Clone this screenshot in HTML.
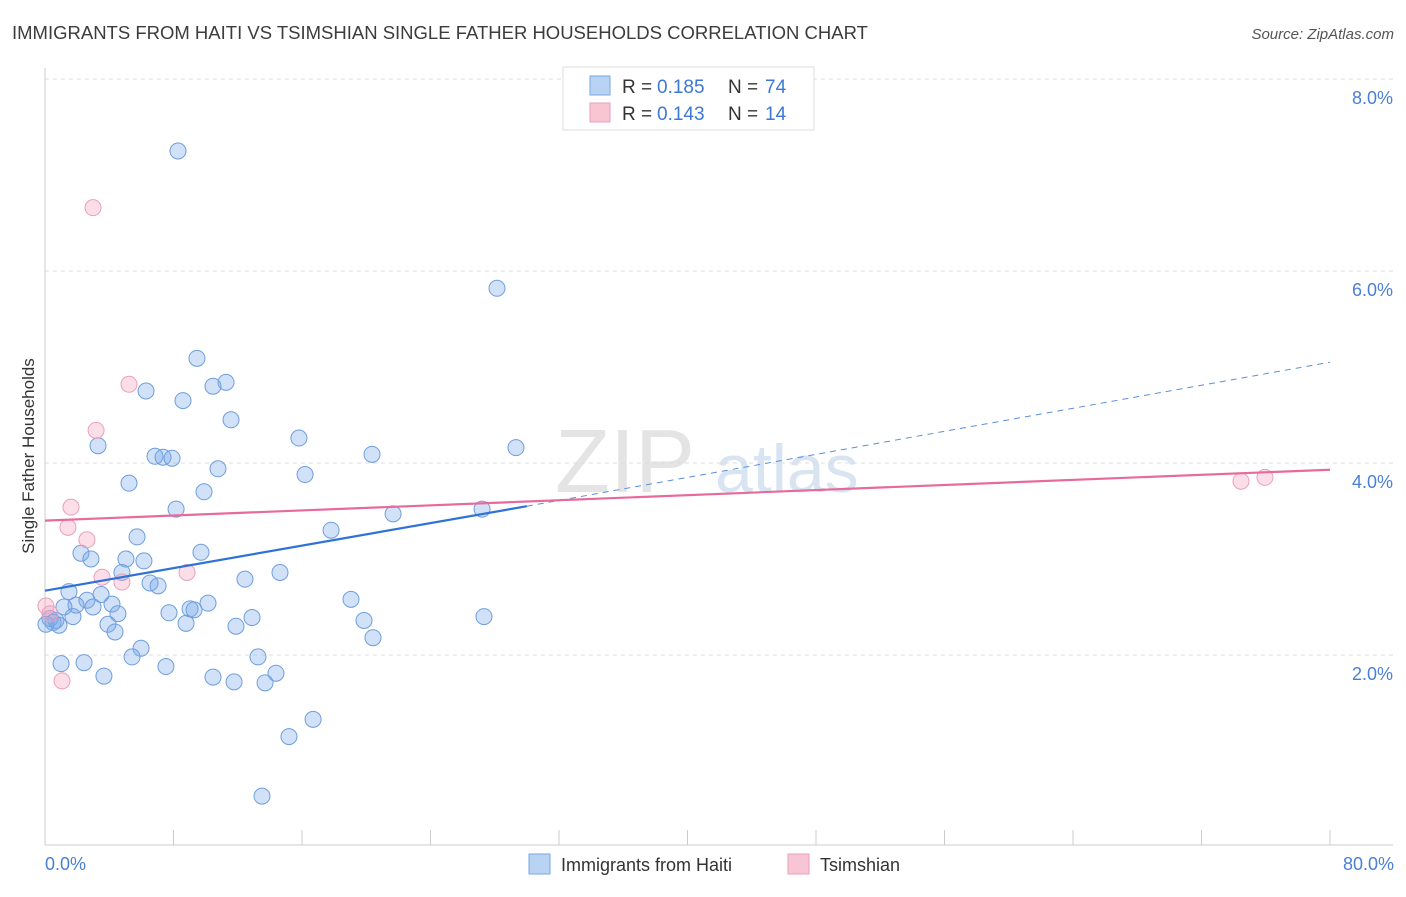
<!DOCTYPE html>
<html><head><meta charset="utf-8"><style>
body{margin:0;background:#fff;font-family:"Liberation Sans",sans-serif;}
svg text{font-family:"Liberation Sans",sans-serif;}
</style></head><body>
<svg id="chart" width="1406" height="892" xmlns="http://www.w3.org/2000/svg">
<text x="12" y="39" font-size="18.5" fill="#3c3c3c">IMMIGRANTS FROM HAITI VS TSIMSHIAN SINGLE FATHER HOUSEHOLDS CORRELATION CHART</text>
<text x="1394" y="39" font-size="15" fill="#555" text-anchor="end" font-style="italic">Source: ZipAtlas.com</text>
<text x="555" y="492" font-size="90" fill="#e4e4e4" font-family="Liberation Serif">ZIP</text>
<text x="715" y="492" font-size="68" fill="#d8e4f2">atlas</text>
<g id="grid"></g>
<g id="marks"></g>
<text transform="translate(34,456) rotate(-90)" font-size="17" fill="#333" text-anchor="middle">Single Father Households</text>
<text x="45" y="870" font-size="18" fill="#4a7fd4">0.0%</text>
<text x="1394" y="870" font-size="18" fill="#4a7fd4" text-anchor="end">80.0%</text>
<g>
<rect x="563" y="67" width="251" height="63" fill="#fff" stroke="#ddd"/>
<rect x="590" y="76" width="20" height="19" fill="#b8d3f3" stroke="#7aa7e0"/>
<rect x="590" y="103" width="20" height="19" fill="#f8c5d5" stroke="#e8a0b8"/>
<text x="622" y="93" font-size="19" fill="#333">R =</text>
<text x="657" y="93" font-size="19" fill="#3d78d6">0.185</text>
<text x="728" y="93" font-size="19" fill="#333">N =</text>
<text x="765" y="93" font-size="19" fill="#3d78d6">74</text>
<text x="622" y="120" font-size="19" fill="#333">R =</text>
<text x="657" y="120" font-size="19" fill="#3d78d6">0.143</text>
<text x="728" y="120" font-size="19" fill="#333">N =</text>
<text x="765" y="120" font-size="19" fill="#3d78d6">14</text>
</g>
<g>
<rect x="529" y="854" width="21" height="20" fill="#b8d3f3" stroke="#7aa7e0"/>
<text x="561" y="871" font-size="18" fill="#333">Immigrants from Haiti</text>
<rect x="788" y="854" width="21" height="20" fill="#f8c5d5" stroke="#e8a0b8"/>
<text x="820" y="871" font-size="18" fill="#333">Tsimshian</text>
</g>
</svg>
<script>
const yTicks=[2,4,6,8];
const yTickLabels=["2.0%","4.0%","6.0%","8.0%"];
const xTicks=[0,8,16,24,32,40,48,56,64,72,80];
const haitiX=[8.28,28.14,9.46,11.27,10.46,6.29,8.59,11.58,3.30,15.81,6.85,7.35,7.91,20.36,29.32,10.77,16.19,5.23,9.90,8.16,21.67,27.21,17.81,5.73,2.24,9.71,2.86,5.04,6.16,4.79,12.45,14.63,6.54,7.04,1.49,3.49,2.61,4.17,1.93,1.18,2.99,10.15,19.05,9.03,9.28,7.72,4.54,1.74,27.33,0.31,0.68,0.50,0.06,0.87,12.89,19.86,8.78,11.89,3.92,4.36,20.42,5.98,5.42,13.26,1.00,2.43,7.53,3.67,10.46,14.38,11.77,13.70,16.69,15.19,13.51];
const haitiY=[7.25,5.82,5.09,4.84,4.80,4.75,4.65,4.45,4.18,4.26,4.07,4.06,4.05,4.09,4.16,3.94,3.88,3.79,3.70,3.52,3.47,3.52,3.30,3.23,3.06,3.07,3.00,3.00,2.98,2.86,2.79,2.86,2.75,2.72,2.66,2.63,2.57,2.53,2.52,2.50,2.50,2.54,2.58,2.48,2.47,2.44,2.43,2.40,2.40,2.38,2.36,2.34,2.32,2.31,2.39,2.36,2.33,2.30,2.32,2.24,2.18,2.07,1.98,1.98,1.91,1.92,1.88,1.78,1.77,1.81,1.72,1.71,1.33,1.15,0.53];
const tsimX=[2.99,5.23,3.18,1.62,1.43,2.61,3.55,4.79,8.84,0.06,0.31,1.06,74.46,75.95];
const tsimY=[6.66,4.82,4.34,3.54,3.33,3.20,2.81,2.76,2.86,2.51,2.43,1.73,3.81,3.85];
const haitiTrend=[2.67,3.55,5.05];
const haitiTrendX=[0,30,80];
const tsimTrend=[3.40,3.93];
const tsimTrendX=[0,80];

const NS="http://www.w3.org/2000/svg";
const sx=v=>45+v/80*1285;
const sy=v=>847-v*96;
function mk(tag,attrs,parent){const e=document.createElementNS(NS,tag);for(const k in attrs)e.setAttribute(k,attrs[k]);parent.appendChild(e);return e;}
const grid=document.getElementById('grid'),marks=document.getElementById('marks');
yTicks.forEach((t,i)=>{
 const l=mk('line',{x1:45,x2:1393,y1:sy(t),y2:sy(t),stroke:'#ddd','stroke-dasharray':'4,4'},grid);
 
 
 const tx=mk('text',{x:1393,y:sy(t)+25,'font-size':18,fill:'#4a7fd4','text-anchor':'end'},grid);
 tx.textContent=yTickLabels[i];
 
 
});
const topLine=mk('line',{x1:45,x2:1393,y1:79,y2:79,stroke:'#ddd','stroke-dasharray':'4,4'},grid);


const ya=mk('line',{x1:45,x2:45,y1:68,y2:845,stroke:'#ccc'},grid);


const xa=mk('line',{x1:45,x2:1393,y1:845,y2:845,stroke:'#ccc'},grid);


xTicks.forEach(t=>{
 const l=mk('line',{x1:sx(t),x2:sx(t),y1:830,y2:845,stroke:'#ccc'},grid);
 
 
});
haitiX.forEach((x,i)=>{
 const c=mk('circle',{cx:sx(x),cy:sy(haitiY[i]),r:8,fill:'rgba(120,170,235,0.35)',stroke:'#6f9edc','stroke-width':1},marks);
 
 
});
tsimX.forEach((x,i)=>{
 const c=mk('circle',{cx:sx(x),cy:sy(tsimY[i]),r:8,fill:'rgba(245,160,190,0.35)',stroke:'#e9a0ba','stroke-width':1},marks);
 
 
});
const hs=mk('line',{x1:sx(haitiTrendX[0]),y1:sy(haitiTrend[0]),x2:sx(haitiTrendX[1]),y2:sy(haitiTrend[1]),stroke:'#2f72d6','stroke-width':2.2},marks);


const hd=mk('line',{x1:sx(haitiTrendX[1]),y1:sy(haitiTrend[1]),x2:sx(haitiTrendX[2]),y2:sy(haitiTrend[2]),stroke:'#5a8fdc','stroke-width':1,'stroke-dasharray':'6,5'},marks);


const ts=mk('line',{x1:sx(tsimTrendX[0]),y1:sy(tsimTrend[0]),x2:sx(tsimTrendX[1]),y2:sy(tsimTrend[1]),stroke:'#e66b9a','stroke-width':2.2},marks);


</script>
</body></html>
